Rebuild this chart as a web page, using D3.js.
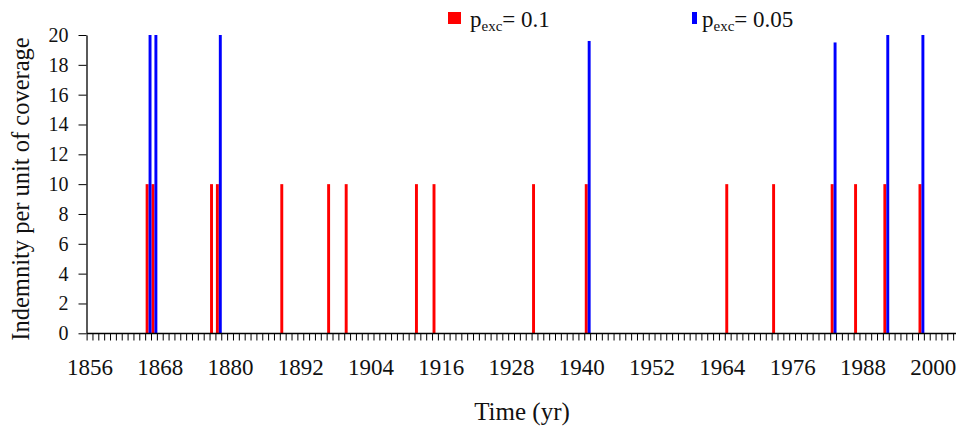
<!DOCTYPE html>
<html>
<head>
<meta charset="utf-8">
<script src="https://cdn.jsdelivr.net/npm/d3@7/dist/d3.min.js"></script>
<style>
  html, body { margin: 0; padding: 0; background: #fff; }
  svg text { font-family: "Liberation Serif", "Times New Roman", Times, "DejaVu Serif", serif; }
</style>
</head>
<body>
<svg id="chart" width="956" height="427"></svg>
<script>
// Years on the category axis (one category per year)
const firstYear = 1856;
const lastYear = 2004;
const years = d3.range(firstYear, lastYear + 1);

// Years with an indemnity payout, per exceedance probability
const redYears  = [1866, 1867, 1877, 1878, 1889, 1897, 1900, 1912, 1915, 1932, 1941, 1965, 1973, 1983, 1987, 1992, 1998];
const redValues = [10, 10, 10, 10, 10, 10, 10, 10, 10, 10, 10, 10, 10, 10, 10, 10, 10];
const blueYears  = [1866, 1867, 1878, 1941, 1983, 1992, 1998];
const blueValues = [20, 20, 20, 19.6, 19.5, 20, 20];

// Axis labels
const xTickLabels = [1856, 1868, 1880, 1892, 1904, 1916, 1928, 1940, 1952, 1964, 1976, 1988, 2000];
const yTickValues = [0, 2, 4, 6, 8, 10, 12, 14, 16, 18, 20];

const seriesNames = ["p01", "p005"];
const seriesColors = { p01: "#ff0000", p005: "#0000ff" };

const svg = d3.select("#chart");

const plotLeft = 87.1, plotBottom = 333.3, plotTop = 35;
const yearStep = 5.855;

const x = d3.scaleBand()
  .domain(years)
  .range([plotLeft, plotLeft + years.length * yearStep])
  .padding(0);

const sub = d3.scaleBand()
  .domain(seriesNames)
  .range([0, x.bandwidth()])
  .padding(0);

const y = d3.scaleLinear().domain([0, 20]).range([plotBottom, plotTop]);

const bars = [
  ...redYears.map((yr, i) => ({ year: yr, value: redValues[i], series: "p01" })),
  ...blueYears.map((yr, i) => ({ year: yr, value: blueValues[i], series: "p005" }))
];

// Bars
svg.append("g")
  .selectAll("rect")
  .data(bars)
  .join("rect")
  .attr("x", d => x(d.year) + sub(d.series))
  .attr("width", sub.bandwidth())
  .attr("y", d => y(d.value))
  .attr("height", d => y(0) - y(d.value))
  .attr("fill", d => seriesColors[d.series]);

// X axis: tick marks between categories, labels every 12 years
const xAxisG = svg.append("g").attr("transform", `translate(0,${Math.round(plotBottom) + 0.5})`);
xAxisG.append("line")
  .attr("x1", plotLeft).attr("x2", 956)
  .attr("stroke", "#000").attr("stroke-width", 1.3);
xAxisG.selectAll("line.tick")
  .data(years.concat([lastYear + 1]))
  .join("line")
  .attr("class", "tick")
  .attr("x1", d => d <= lastYear ? x(d) : x(lastYear) + x.bandwidth())
  .attr("x2", d => d <= lastYear ? x(d) : x(lastYear) + x.bandwidth())
  .attr("y1", 0).attr("y2", 7)
  .attr("stroke", "#000").attr("stroke-width", 1);

const xLabels = svg.append("g")
  .attr("transform", `translate(0,${Math.round(plotBottom)})`)
  .call(d3.axisBottom(x).tickValues(xTickLabels).tickSize(0).tickPadding(26));
xLabels.attr("font-family", null);
xLabels.select(".domain").remove();
xLabels.selectAll("text")
  .attr("font-size", 23)
  .attr("fill", "#111");

// Y axis
const yAxisG = svg.append("g")
  .attr("transform", `translate(${Math.round(plotLeft) - 0.5},0)`)
  .call(d3.axisLeft(y).tickValues(yTickValues).tickSize(8).tickPadding(10).tickSizeOuter(0));
yAxisG.attr("font-family", null);
yAxisG.select(".domain").attr("stroke", "#000").attr("stroke-width", 1.3);
yAxisG.selectAll(".tick line").attr("stroke", "#000");
yAxisG.selectAll("text")
  .attr("font-size", 20)
  .attr("fill", "#111");

// Axis titles
svg.append("text")
  .attr("transform", "translate(29,189) rotate(-90)")
  .attr("text-anchor", "middle")
  .attr("font-size", 24.5)
  .attr("fill", "#111")
  .text("Indemnity per unit of coverage");

svg.append("text")
  .attr("x", 522).attr("y", 420)
  .attr("text-anchor", "middle")
  .attr("font-size", 25)
  .attr("fill", "#111")
  .text("Time (yr)");

// Legend
const legendItems = [
  { series: "p01", label: "0.1", mx: 448, mw: 13, tx: 470 },
  { series: "p005", label: "0.05", mx: 692, mw: 5, tx: 702 }
];
const legend = svg.append("g");
legendItems.forEach(item => {
  legend.append("rect")
    .attr("x", item.mx).attr("y", 12)
    .attr("width", item.mw).attr("height", 12)
    .attr("fill", seriesColors[item.series]);
  const t = legend.append("text")
    .attr("x", item.tx).attr("y", 27)
    .attr("font-size", 23)
    .attr("fill", "#111");
  t.append("tspan").text("p");
  t.append("tspan").attr("font-size", 15).attr("dy", 4).text("exc");
  t.append("tspan").attr("dy", -4).text("= " + item.label);
});
</script>
</body>
</html>
